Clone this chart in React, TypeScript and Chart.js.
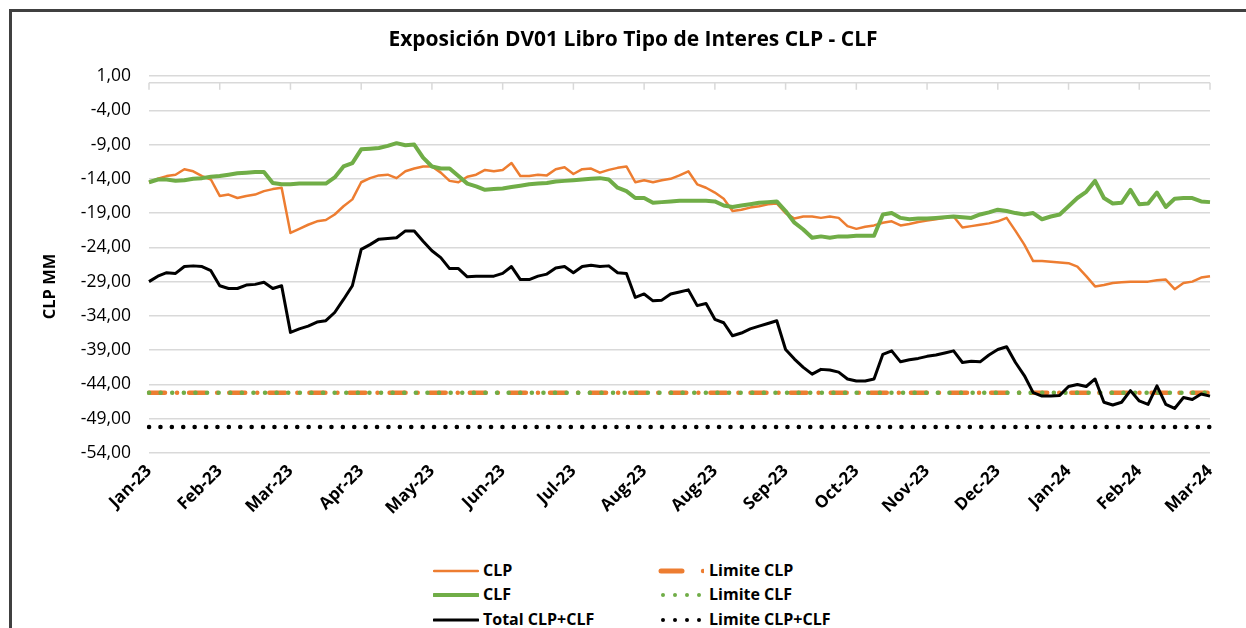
import React, { useEffect, useRef } from "react";
import { Chart, registerables } from "chart.js";

Chart.register(...registerables);

// ---------- DATA ----------
const monthLabels = [
  "Jan-23", "Feb-23", "Mar-23", "Apr-23", "May-23", "Jun-23", "Jul-23", "Aug-23",
  "Aug-23", "Sep-23", "Oct-23", "Nov-23", "Dec-23", "Jan-24", "Feb-24", "Mar-24",
];
const POINTS_PER_LABEL = 8;

const yTickValues = [1, -4, -9, -14, -19, -24, -29, -34, -39, -44, -49, -54];

const clp = [
  -14.5, -14.0, -13.6, -13.4, -12.6, -12.9, -13.6, -14.1,
  -16.5, -16.3, -16.8, -16.5, -16.3, -15.8, -15.5, -15.3,
  -21.9, -21.3, -20.7, -20.2, -20.0, -19.2, -18.0, -17.0,
  -14.5, -13.9, -13.5, -13.4, -13.9, -12.9, -12.5, -12.2,
  -12.2, -13.1, -14.3, -14.5, -13.7, -13.4, -12.7, -12.9,
  -12.7, -11.7, -13.6, -13.6, -13.4, -13.5, -12.6, -12.3,
  -13.3, -12.6, -12.5, -13.1, -12.7, -12.4, -12.2, -14.5,
  -14.2, -14.5, -14.2, -14.0, -13.5, -12.9, -14.8, -15.3,
  -16.0, -16.9, -18.7, -18.5, -18.2, -18.0, -17.7, -17.6,
  -19.0, -19.8, -19.5, -19.5, -19.7, -19.5, -19.7, -20.9,
  -21.3, -21.0, -20.8, -20.4, -20.2, -20.8, -20.6, -20.3,
  -20.1, -19.9, -19.7, -19.5, -21.1, -20.9, -20.7, -20.5,
  -20.2, -19.7, -21.6, -23.6, -26.0, -26.0, -26.1, -26.2,
  -26.3, -26.8, -28.2, -29.7, -29.5, -29.2, -29.1, -29.0,
  -29.0, -29.0, -28.8, -28.7, -30.1, -29.2, -29.0, -28.4,
  -28.2,
];

const clf = [
  -14.5, -14.1, -14.1, -14.3, -14.2, -14.0, -13.9, -13.7,
  -13.6, -13.4, -13.2, -13.1, -13.0, -13.0, -14.6, -14.8,
  -14.8, -14.7, -14.7, -14.7, -14.7, -13.8, -12.2, -11.7,
  -9.7, -9.6, -9.5, -9.2, -8.8, -9.1, -9.0, -10.9,
  -12.2, -12.5, -12.5, -13.6, -14.7, -15.1, -15.6, -15.5,
  -15.4, -15.2, -15.0, -14.8, -14.7, -14.6, -14.4, -14.3,
  -14.2, -14.1, -14.0, -13.9, -14.1, -15.3, -15.8, -16.8,
  -16.8, -17.5, -17.4, -17.3, -17.2, -17.2, -17.2, -17.2,
  -17.3, -17.9, -18.1, -17.9, -17.7, -17.5, -17.4, -17.3,
  -18.7, -20.4, -21.4, -22.6, -22.4, -22.6, -22.4, -22.4,
  -22.3, -22.3, -22.3, -19.2, -19.0, -19.7, -19.9, -19.8,
  -19.8, -19.7, -19.6, -19.5, -19.6, -19.7, -19.2, -18.9,
  -18.5, -18.7, -19.0, -19.2, -19.0, -19.9, -19.5, -19.2,
  -18.0, -16.8, -15.9, -14.3, -16.8, -17.6, -17.5, -15.6,
  -17.7, -17.6, -16.0, -18.1, -16.9, -16.8, -16.8, -17.3,
  -17.4,
];

const totalClpClf = [
  -29.0, -28.2, -27.7, -27.8, -26.8, -26.7, -26.8, -27.4,
  -29.6, -30.0, -30.0, -29.5, -29.4, -29.1, -30.0, -29.6,
  -36.4, -35.9, -35.5, -34.9, -34.7, -33.5, -31.6, -29.6,
  -24.3, -23.6, -22.8, -22.7, -22.6, -21.6, -21.6, -23.1,
  -24.5, -25.5, -27.1, -27.1, -28.3, -28.2, -28.2, -28.2,
  -27.8, -26.8, -28.7, -28.7, -28.2, -27.9, -27.0, -26.8,
  -27.7, -26.8, -26.6, -26.8, -26.7, -27.7, -27.8, -31.3,
  -30.8, -31.8, -31.7, -30.8, -30.5, -30.2, -32.5, -32.2,
  -34.5, -35.0, -36.9, -36.5, -35.9, -35.5, -35.1, -34.7,
  -38.9, -40.3, -41.5, -42.5, -41.8, -41.9, -42.2, -43.2,
  -43.5, -43.5, -43.2, -39.6, -39.1, -40.7, -40.4, -40.2,
  -39.9, -39.7, -39.4, -39.1, -40.8, -40.6, -40.7, -39.7,
  -38.9, -38.5, -40.8, -42.7, -45.2, -45.7, -45.7, -45.6,
  -44.3, -44.0, -44.3, -43.2, -46.6, -47.0, -46.6, -44.9,
  -46.4, -46.9, -44.2, -46.9, -47.5, -45.9, -46.2, -45.4,
  -45.7,
];

const limiteCLP = -45.2;
const limiteCLF = -45.2;
const limiteTotal = -50.2;

// ---------- STYLE ----------
const ORANGE = "#ED7D31";
const GREEN = "#70AD47";
const BLACK = "#000000";
const GRID = "#d9d9d9";
const FONT = "'Open Sans', 'Noto Sans', sans-serif";

const categories = clp.map((_, i) =>
  i % POINTS_PER_LABEL === 0 ? monthLabels[i / POINTS_PER_LABEL] : ""
);

const fmt = (v: number) => v.toFixed(2).replace(".", ",");

const decorPlugin = {
  id: "decor",
  beforeDatasetsDraw(chart: any) {
    const { ctx, chartArea, scales } = chart;
    const y0 = scales.y.getPixelForValue(0);
    ctx.save();
    ctx.strokeStyle = GRID;
    ctx.lineWidth = 1.5;
    ctx.beginPath();
    ctx.moveTo(chartArea.left, y0);
    ctx.lineTo(chartArea.right, y0);
    for (let i = 0; i < monthLabels.length; i++) {
      const x = scales.x.getPixelForValue(i * POINTS_PER_LABEL);
      ctx.moveTo(x, y0);
      ctx.lineTo(x, y0 + 7);
    }
    ctx.stroke();
    ctx.restore();
  },
  afterDraw(chart: any) {
    const { ctx, chartArea } = chart;
    ctx.save();
    ctx.fillStyle = "#000";
    ctx.textAlign = "center";
    ctx.textBaseline = "middle";
    ctx.font = `bold 21px ${FONT}`;
    ctx.fillText("Exposición DV01 Libro Tipo de Interes CLP - CLF", 633, 40);
    ctx.translate(50, (chartArea.top + chartArea.bottom) / 2 + 22);
    ctx.rotate(-Math.PI / 2);
    ctx.font = `bold 16.5px ${FONT}`;
    ctx.fillText("CLP MM", 0, 0);
    ctx.restore();
  },
};

const legendItems = [
  { label: "CLP", kind: "line", color: ORANGE, width: 2.5, col: 0, row: 0 },
  { label: "CLF", kind: "line", color: GREEN, width: 4, col: 0, row: 1 },
  { label: "Total CLP+CLF", kind: "line", color: BLACK, width: 3, col: 0, row: 2 },
  { label: "Limite CLP", kind: "dashdot", color: ORANGE, width: 5, col: 1, row: 0 },
  { label: "Limite CLF", kind: "dots", color: GREEN, width: 4, col: 1, row: 1 },
  { label: "Limite CLP+CLF", kind: "dots", color: BLACK, width: 4, col: 1, row: 2 },
];

function Sample({ item }: { item: any }) {
  const w = 46;
  const h = 10;
  if (item.kind === "line") {
    return (
      <svg width={w} height={h} style={{ display: "block" }}>
        <line x1={1} y1={h / 2} x2={w - 1} y2={h / 2} stroke={item.color} strokeWidth={item.width} strokeLinecap="round" />
      </svg>
    );
  }
  if (item.kind === "dashdot") {
    return (
      <svg width={w} height={h} style={{ display: "block" }}>
        <line x1={3} y1={h / 2} x2={24} y2={h / 2} stroke={item.color} strokeWidth={item.width} strokeLinecap="round" />
        <circle cx={45} cy={h / 2} r={2.2} fill={item.color} />
      </svg>
    );
  }
  return (
    <svg width={w} height={h} style={{ display: "block" }}>
      {[5, 17, 29, 41].map((cx) => (
        <circle key={cx} cx={cx} cy={h / 2} r={2} fill={item.color} />
      ))}
    </svg>
  );
}

export default function App() {
  const canvasRef = useRef<HTMLCanvasElement | null>(null);

  useEffect(() => {
    if (!canvasRef.current) return;
    const chart = new Chart(canvasRef.current, {
      type: "line",
      data: {
        labels: categories,
        datasets: [
          {
            label: "Total CLP+CLF",
            data: totalClpClf,
            borderColor: BLACK,
            borderWidth: 3,
            pointRadius: 0,
            borderJoinStyle: "round",
            order: 0,
          },
          {
            label: "CLF",
            data: clf,
            borderColor: GREEN,
            borderWidth: 4,
            pointRadius: 0,
            borderJoinStyle: "round",
            order: 1,
          },
          {
            label: "CLP",
            data: clp,
            borderColor: ORANGE,
            borderWidth: 2.5,
            pointRadius: 0,
            borderJoinStyle: "round",
            order: 2,
          },
          {
            label: "Limite CLF",
            data: categories.map(() => limiteCLF),
            borderColor: GREEN,
            borderWidth: 4.5,
            borderDash: [0.1, 11.5],
            borderCapStyle: "round",
            pointRadius: 0,
            order: 3,
          },
          {
            label: "Limite CLP",
            data: categories.map(() => limiteCLP),
            borderColor: ORANGE,
            borderWidth: 4.5,
            borderDash: [16, 12, 0.1, 12],
            borderCapStyle: "round",
            pointRadius: 0,
            order: 4,
          },
          {
            label: "Limite CLP+CLF",
            data: categories.map(() => limiteTotal),
            borderColor: BLACK,
            borderWidth: 4.5,
            borderDash: [0.1, 11.3],
            borderCapStyle: "round",
            pointRadius: 0,
            order: 5,
          },
        ],
      },
      options: {
        responsive: false,
        animation: false,
        devicePixelRatio: 1,
        layout: { padding: { top: 76, right: 36, left: 0, bottom: 0 } },
        plugins: {
          legend: { display: false },
          title: { display: false },
          tooltip: { enabled: false },
        },
        scales: {
          x: {
            type: "category",
            offset: false,
            grid: { display: false, drawTicks: false },
            border: { display: false },
            ticks: {
              autoSkip: false,
              minRotation: 45,
              maxRotation: 45,
              padding: 8,
              color: "#000",
              font: { family: FONT, size: 17, weight: "bold" },
              callback: function (_v: any, i: number) {
                return i % POINTS_PER_LABEL === 0 ? categories[i] : null;
              },
            },
            afterFit: (scale: any) => {
              scale.height = 92;
            },
          },
          y: {
            min: -54,
            max: 1,
            grid: { color: GRID, lineWidth: 1.5, drawTicks: false },
            border: { display: false },
            ticks: {
              padding: 18,
              color: "#000",
              font: { family: FONT, size: 17.5 },
              callback: (v: any) => fmt(Number(v)),
            },
            afterBuildTicks: (scale: any) => {
              scale.ticks = yTickValues.map((v) => ({ value: v }));
            },
            afterFit: (scale: any) => {
              scale.width = 149;
            },
          },
        },
      },
      plugins: [decorPlugin],
    } as any);
    return () => chart.destroy();
  }, []);

  const colX = [433, 658];
  const textX = [483, 709];
  const rowY = [571, 595, 620];

  return (
    <div style={{ position: "absolute", left: 0, top: 0, width: 1246, height: 628, overflow: "hidden", background: "#fff", fontFamily: FONT }}>
      <div style={{ position: "absolute", left: 9, top: 9, width: 1400, height: 800, borderTop: "3px solid #404040", borderLeft: "3px solid #404040" }} />
      <canvas ref={canvasRef} width={1246} height={545} style={{ position: "absolute", left: 0, top: 0, width: 1246, height: 545 }} />
      {legendItems.map((it) => (
        <React.Fragment key={it.label}>
          <div style={{ position: "absolute", left: colX[it.col], top: rowY[it.row] - 5 }}>
            <Sample item={it} />
          </div>
          <div style={{ position: "absolute", left: textX[it.col], top: rowY[it.row] - 12, fontSize: 16, fontWeight: "bold", lineHeight: "22px", color: "#000", whiteSpace: "nowrap" }}>
            {it.label}
          </div>
        </React.Fragment>
      ))}
    </div>
  );
}
